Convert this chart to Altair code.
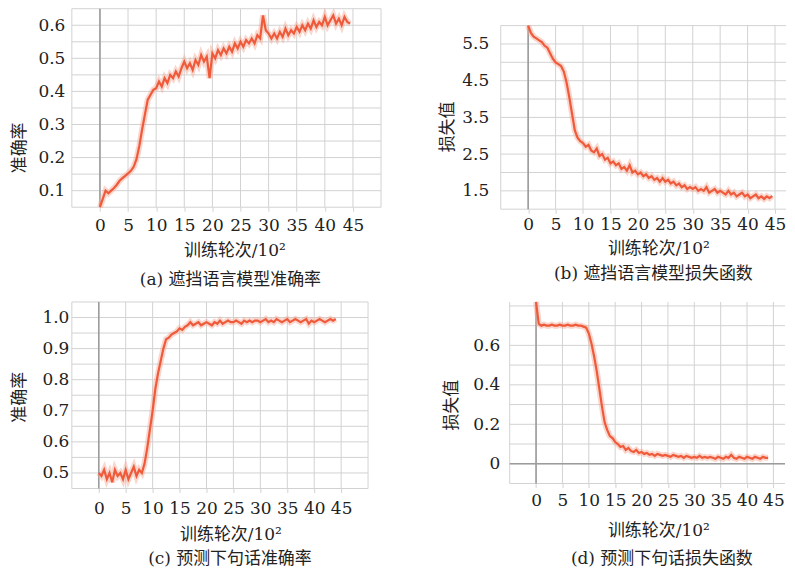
import altair as alt
import pandas as pd

# x positions (training steps / 10^2)
steps = [
    0, 0.5, 1, 1.5, 2, 2.5, 3, 3.5, 4, 4.5,
    5, 5.5, 6, 6.5, 7, 7.5, 8, 8.5, 9, 9.5,
    10, 10.5, 11, 11.5, 12, 12.5, 13, 13.5, 14, 14.5,
    15, 15.5, 16, 16.5, 17, 17.5, 18, 18.5, 19, 19.5,
    20, 20.5, 21, 21.5, 22, 22.5, 23, 23.5, 24, 24.5,
    25, 25.5, 26, 26.5, 27, 27.5, 28, 28.5, 29, 29.5,
    30, 30.5, 31, 31.5, 32, 32.5, 33, 33.5, 34, 34.5,
    35, 35.5, 36, 36.5, 37, 37.5, 38, 38.5, 39, 39.5,
    40, 40.5, 41, 41.5, 42, 42.5, 43, 43.5, 44, 44.5,
]

# (a) masked LM accuracy
mlm_acc = [
    0.05, 0.075, 0.10, 0.092, 0.10, 0.108, 0.118, 0.13, 0.138, 0.145,
    0.152, 0.16, 0.172, 0.195, 0.235, 0.285, 0.33, 0.375, 0.39, 0.405,
    0.41, 0.43, 0.415, 0.44, 0.425, 0.45, 0.44, 0.46, 0.445, 0.47,
    0.49, 0.47, 0.485, 0.465, 0.495, 0.48, 0.51, 0.49, 0.505, 0.44,
    0.515, 0.50, 0.525, 0.51, 0.53, 0.515, 0.535, 0.52, 0.545, 0.53,
    0.55, 0.535, 0.555, 0.545, 0.56, 0.545, 0.57, 0.56, 0.63, 0.585,
    0.575, 0.56, 0.575, 0.56, 0.58, 0.565, 0.59, 0.57, 0.585, 0.575,
    0.595, 0.58, 0.60, 0.585, 0.605, 0.59, 0.615, 0.595, 0.61, 0.60,
    0.625, 0.60, 0.615, 0.63, 0.605, 0.62, 0.60, 0.625, 0.61, 0.605,
]

# (b) masked LM loss
mlm_loss = [
    6.0, 5.8, 5.7, 5.65, 5.6, 5.55, 5.45, 5.4, 5.25, 5.1,
    5.0, 4.95, 4.9, 4.75, 4.45, 4.05, 3.6, 3.15, 2.95, 2.85,
    2.8, 2.7, 2.75, 2.6, 2.55, 2.65, 2.45, 2.5, 2.35, 2.4,
    2.25, 2.3, 2.2, 2.25, 2.1, 2.15, 2.05, 2.2, 2.0, 2.05,
    1.95, 2.0, 1.9, 1.95, 1.85, 1.9, 1.8, 1.85, 1.75, 1.85,
    1.75, 1.8, 1.7, 1.75, 1.65, 1.7, 1.6, 1.65, 1.55, 1.6,
    1.55, 1.6, 1.5, 1.55, 1.5, 1.6, 1.45, 1.5, 1.55, 1.45,
    1.5, 1.45, 1.4, 1.5, 1.4, 1.45, 1.35, 1.4, 1.45, 1.35,
    1.4, 1.3, 1.35, 1.4, 1.3, 1.35, 1.28, 1.35, 1.3, 1.36,
]

# (c) next sentence prediction accuracy
nsp_acc = [
    0.50, 0.49, 0.51, 0.48, 0.50, 0.47, 0.51, 0.49, 0.50, 0.48,
    0.51, 0.48, 0.50, 0.52, 0.49, 0.51, 0.50, 0.53, 0.58, 0.64,
    0.70, 0.77, 0.82, 0.86, 0.90, 0.93, 0.935, 0.945, 0.95, 0.955,
    0.965, 0.96, 0.97, 0.975, 0.985, 0.975, 0.98, 0.985, 0.975, 0.98,
    0.985, 0.98, 0.975, 0.985, 0.98, 0.99, 0.98, 0.985, 0.99, 0.985,
    0.985, 0.99, 0.985, 0.98, 0.99, 0.985, 0.99, 0.985, 0.99, 0.99,
    0.985, 0.99, 0.995, 0.985, 0.99, 0.985, 0.995, 0.99, 0.985, 0.99,
    0.995, 0.985, 0.99, 0.995, 0.99, 0.985, 0.99, 0.995, 0.98, 0.99,
    0.985, 0.99, 0.995, 0.99, 0.985, 0.99, 0.995, 0.99, 0.995,
]

# (d) next sentence prediction loss
nsp_loss = [
    0.82, 0.71, 0.70, 0.705, 0.70, 0.70, 0.705, 0.70, 0.70, 0.705,
    0.70, 0.70, 0.705, 0.70, 0.70, 0.705, 0.70, 0.70, 0.695, 0.69,
    0.66, 0.61, 0.545, 0.47, 0.38, 0.29, 0.21, 0.17, 0.14, 0.13,
    0.11, 0.10, 0.085, 0.09, 0.07, 0.08, 0.065, 0.06, 0.07, 0.055,
    0.06, 0.05, 0.055, 0.045, 0.05, 0.04, 0.05, 0.045, 0.04, 0.045,
    0.04, 0.035, 0.045, 0.04, 0.035, 0.04, 0.03, 0.04, 0.035, 0.03,
    0.035, 0.03, 0.04, 0.03, 0.035, 0.03, 0.035, 0.03, 0.025, 0.035,
    0.03, 0.025, 0.035, 0.03, 0.045, 0.03, 0.025, 0.035, 0.03, 0.025,
    0.035, 0.03, 0.025, 0.035, 0.03, 0.025, 0.035, 0.03, 0.03,
]

x_grid_full = [-5, 0, 5, 10, 15, 20, 25, 30, 35, 40, 45, 50]
x_grid_cut = [-5, 0, 5, 10, 15, 20, 25, 30, 35, 40, 45]
x_labels = [0, 5, 10, 15, 20, 25, 30, 35, 40, 45]

ya_grid = [0.05, 0.1, 0.15, 0.2, 0.25, 0.3, 0.35, 0.4, 0.45, 0.5, 0.55, 0.6, 0.65]
ya_labels = [0.1, 0.2, 0.3, 0.4, 0.5, 0.6]
yb_grid = [1.0, 1.5, 2.0, 2.5, 3.0, 3.5, 4.0, 4.5, 5.0, 5.5, 6.0]
yb_labels = [1.5, 2.5, 3.5, 4.5, 5.5]
yc_grid = [0.45, 0.5, 0.55, 0.6, 0.65, 0.7, 0.75, 0.8, 0.85, 0.9, 0.95, 1.0, 1.05]
yc_labels = [0.5, 0.6, 0.7, 0.8, 0.9, 1.0]
yd_grid = [-0.1, 0, 0.1, 0.2, 0.3, 0.4, 0.5, 0.6, 0.7, 0.8]
yd_labels = [0, 0.2, 0.4, 0.6]

x_title = "训练轮次/10²"
captions = ["(a) 遮挡语言模型准确率", "(b) 遮挡语言模型损失函数",
            "(c) 预测下句话准确率", "(d) 预测下句话损失函数"]
y_titles = ["准确率", "损失值", "准确率", "损失值"]

FONT = "DejaVu Serif, Noto Sans CJK SC"
TXT = "#222222"
LINE = "#ef5a3a"
HALO = "#f5a390"
GRID = "#d2d2d2"
ZERO = "#9c9c9c"
LFS = 17
TFS = 17


def panel(vals, xdom, width, xgrid, ydom, height, ygrid, vtop, ylabels, yfmt,
          ytitle, caption, ytx, yty, ylp, xlp, xtp, xtx, cap_off, cap_dx,
          hzero=False):
    df = pd.DataFrame({"x": steps[:len(vals)], "y": vals})
    xs = alt.Scale(domain=xdom, nice=False, zero=False)
    ys = alt.Scale(domain=ydom, nice=False, zero=False)
    xaxis = alt.Axis(
        values=x_labels, grid=False, domain=False, ticks=True, tickSize=4,
        tickColor=GRID, labelPadding=xlp, labelFont=FONT, labelFontSize=LFS,
        labelColor=TXT, labelOverlap=False, labelFlush=False,
        title=x_title, titleFont=FONT, titleFontSize=TFS,
        titleFontWeight="normal", titleColor=TXT, titlePadding=xtp,
        titleX=xtx, titleAlign="center")
    yaxis = alt.Axis(
        values=ylabels, format=yfmt, grid=False, domain=False, ticks=False,
        labelPadding=ylp, labelFont=FONT, labelFontSize=LFS, labelColor=TXT,
        labelOverlap=False, labelFlush=False,
        title=ytitle, titleFont=FONT, titleFontSize=TFS,
        titleFontWeight="normal", titleColor=TXT, titleX=ytx, titleY=yty,
        titleAlign="center", titleBaseline="bottom")
    X = alt.X("x:Q", scale=xs, axis=xaxis)
    Y = alt.Y("y:Q", scale=ys, axis=yaxis)
    # grid lines span only the gridded region of the panel
    vgrid = pd.DataFrame({"x": xgrid, "y": [ygrid[0]] * len(xgrid),
                          "y2": [vtop] * len(xgrid)})
    hgrid = pd.DataFrame({"y": ygrid, "x": [xgrid[0]] * len(ygrid),
                          "x2": [xdom[1]] * len(ygrid)})
    layers = [
        alt.Chart(vgrid).mark_rule(color=GRID, strokeWidth=1).encode(
            x=X, y=Y, y2="y2:Q"),
        alt.Chart(hgrid).mark_rule(color=GRID, strokeWidth=1).encode(
            y=Y, x=X, x2="x2:Q"),
        alt.Chart(pd.DataFrame({"x": [0], "y": [ygrid[0]], "y2": [vtop]}))
        .mark_rule(color=ZERO, strokeWidth=1.6).encode(x=X, y=Y, y2="y2:Q"),
    ]
    if hzero:
        layers.append(
            alt.Chart(pd.DataFrame({"y": [0], "x": [xgrid[0]], "x2": [xdom[1]]}))
            .mark_rule(color=ZERO, strokeWidth=1.6).encode(y=Y, x=X, x2="x2:Q"))
    base = alt.Chart(df).encode(x=X, y=Y)
    layers.append(base.mark_line(color=HALO, strokeWidth=6, opacity=0.45))
    layers.append(base.mark_line(color=LINE, strokeWidth=2.2))
    return alt.layer(*layers).properties(
        width=width, height=height,
        title=alt.TitleParams(caption, orient="bottom", frame="group",
                              anchor="middle", offset=cap_off, dx=cap_dx,
                              font=FONT, fontSize=TFS, fontWeight="normal",
                              color=TXT))


pa = panel(mlm_acc, [-5, 50], 310, x_grid_full, [0.05, 0.65], 199,
           ya_grid, 0.65, ya_labels, ".1f", y_titles[0], captions[0],
           ytx=-43, yty=139, ylp=7, xlp=6, xtp=9, xtx=163,
           cap_off=14, cap_dx=4)
pb = panel(mlm_loss, [-5, 47], 286, x_grid_cut, [1.0, 6.46], 201,
           yb_grid, 6.0, yb_labels, ".1f", y_titles[1], captions[1],
           ytx=-44, yty=118, ylp=12, xlp=3, xtp=8, xtx=158,
           cap_off=10, cap_dx=10)
pc = panel(nsp_acc, [-5, 50], 297, x_grid_full, [0.45, 1.05], 187,
           yc_grid, 1.05, yc_labels, ".1f", y_titles[2], captions[2],
           ytx=-43, yty=95, ylp=3, xlp=8, xtp=10, xtx=159,
           cap_off=9, cap_dx=10)
pd_ = panel(nsp_loss, [-6.7, 47.2], 285, x_grid_cut, [-0.1, 0.82], 182,
            yd_grid, 0.82, yd_labels, ".1~f", y_titles[3], captions[3],
            ytx=-40, yty=103, ylp=1, xlp=5, xtp=14, xtx=158,
            cap_off=13, cap_dx=19, hzero=True)

chart = alt.concat(
    pa, pb, pc, pd_, columns=2, bounds="flush",
    spacing={"row": 93, "column": 120},
).properties(
    padding={"left": 3, "top": -6, "right": 0, "bottom": 0},
    background="white",
).configure_view(stroke=None)

chart.save("out.html", embed_options={"renderer": "svg", "actions": False})
